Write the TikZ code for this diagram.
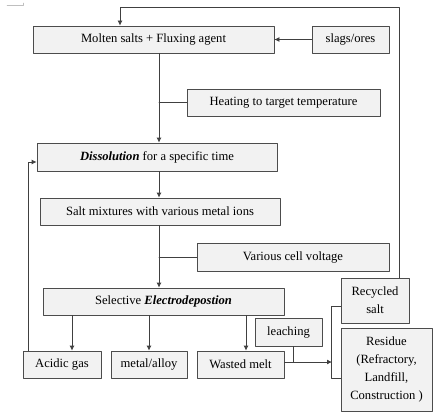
\documentclass[tikz,border=0pt]{standalone}
\usepackage{fontspec}
\setmainfont{Liberation Serif}
\usetikzlibrary{arrows.meta}

\tikzset{
  box/.style={draw=black!70, fill=black!5, line width=0.8pt, inner sep=0pt,
    font=\fontsize{12.6}{18}\selectfont, align=center},
  link/.style={draw=black!75, line width=0.8pt},
}

\begin{document}
\begin{tikzpicture}[x=1pt, y=-1pt, line cap=round, line join=round, >={Latex[length=5pt,width=5pt]}]

    \useasboundingbox (0,0) rectangle (433,412);

    % Page corner mark
    \draw[black!25] (7,5) -- (23,5) -- (23,3);

    % Main chain
    \node[box, minimum width=241pt, minimum height=27pt] (molten) at (153.5,39.5) {Molten salts + Fluxing agent};
    \node[box, minimum width=77pt, minimum height=27pt] (slags) at (350.5,39.5) {slags/ores};
    \node[box, minimum width=193pt, minimum height=27pt] (heating) at (283.5,102.5) {Heating to target temperature};
    \node[box, minimum width=240pt, minimum height=28pt] (dissol) at (157,157) {\textbf{\textit{Dissolution}} for a specific time};
    \node[box, minimum width=240pt, minimum height=27pt] (salt) at (160,211.5) {Salt mixtures with various metal ions};
    \node[box, minimum width=192pt, minimum height=28pt] (voltage) at (293,257) {Various cell voltage};
    \node[box, minimum width=241pt, minimum height=27pt] (selective) at (163.5,301.5) {Selective \textbf{\textit{Electrodepostion}}};

    % Products
    \node[box, minimum width=78pt, minimum height=27pt] (acidic) at (62,364.5) {Acidic gas};
    \node[box, minimum width=76pt, minimum height=27pt] (metal) at (149,364.5) {metal/alloy};
    \node[box, minimum width=87pt, minimum height=27pt] (wasted) at (240.5,364.5) {Wasted melt};
    \node[box, minimum width=67pt, minimum height=28pt] (leaching) at (288.5,332) {leaching};
    \node[box, minimum width=68pt, minimum height=45pt] (recycled) at (375,300.5) {Recycled\\salt};
    \node[box, minimum width=91pt, minimum height=83pt] (residue) at (386.5,369.5) {Residue\\(Refractory,\\Landfill,\\Construction )};

    % Helper columns and rows
    \coordinate (spine) at (159,0);
    \coordinate (gasx) at (72,0);
    \coordinate (meltx) at (246,0);
    \coordinate (backx) at (28,0);
    \coordinate (upx) at (399,0);
    \coordinate (loopx) at (120,0);
    \coordinate (loopy) at (0,7);
    \coordinate (leachx) at (293,0);
    \coordinate (bracketx) at (332,0);

    % Down the spine
    \draw[link, ->] (slags.west) -- (molten.east);
    \draw[link, ->] (molten.south -| spine) -- (dissol.north -| spine);
    \draw[link] (heating.west) -- (heating.west -| spine);
    \draw[link, ->] (dissol.south -| spine) -- (salt.north -| spine);
    \draw[link, ->] (salt.south -| spine) -- (selective.north -| spine);
    \draw[link] (voltage.west) -- (voltage.west -| spine);

    % Split into products
    \draw[link, ->] (selective.south -| gasx) -- (acidic.north -| gasx);
    \draw[link, ->] (selective.south -| metal) -- (metal.north);
    \draw[link, ->] (selective.south -| meltx) -- (wasted.north -| meltx);

    % Feedback loops
    \draw[link, ->] (acidic.north -| backx) |- ([yshift=-5pt]dissol.west);
    \draw[link, ->] (recycled.north -| upx) -- (upx |- loopy) -| (molten.north -| loopx);

    % Leaching of wasted melt
    \draw[link, ->] ([yshift=2.5pt]wasted.east) coordinate (outlet) -- (outlet -| bracketx);
    \draw[link] (leaching.south -| leachx) -- (outlet -| leachx);
    \draw[link] ([yshift=-5.5pt]recycled.west) -- ++(-9,0) |- ([yshift=-8.5pt]residue.west);

\end{tikzpicture}
\end{document}
